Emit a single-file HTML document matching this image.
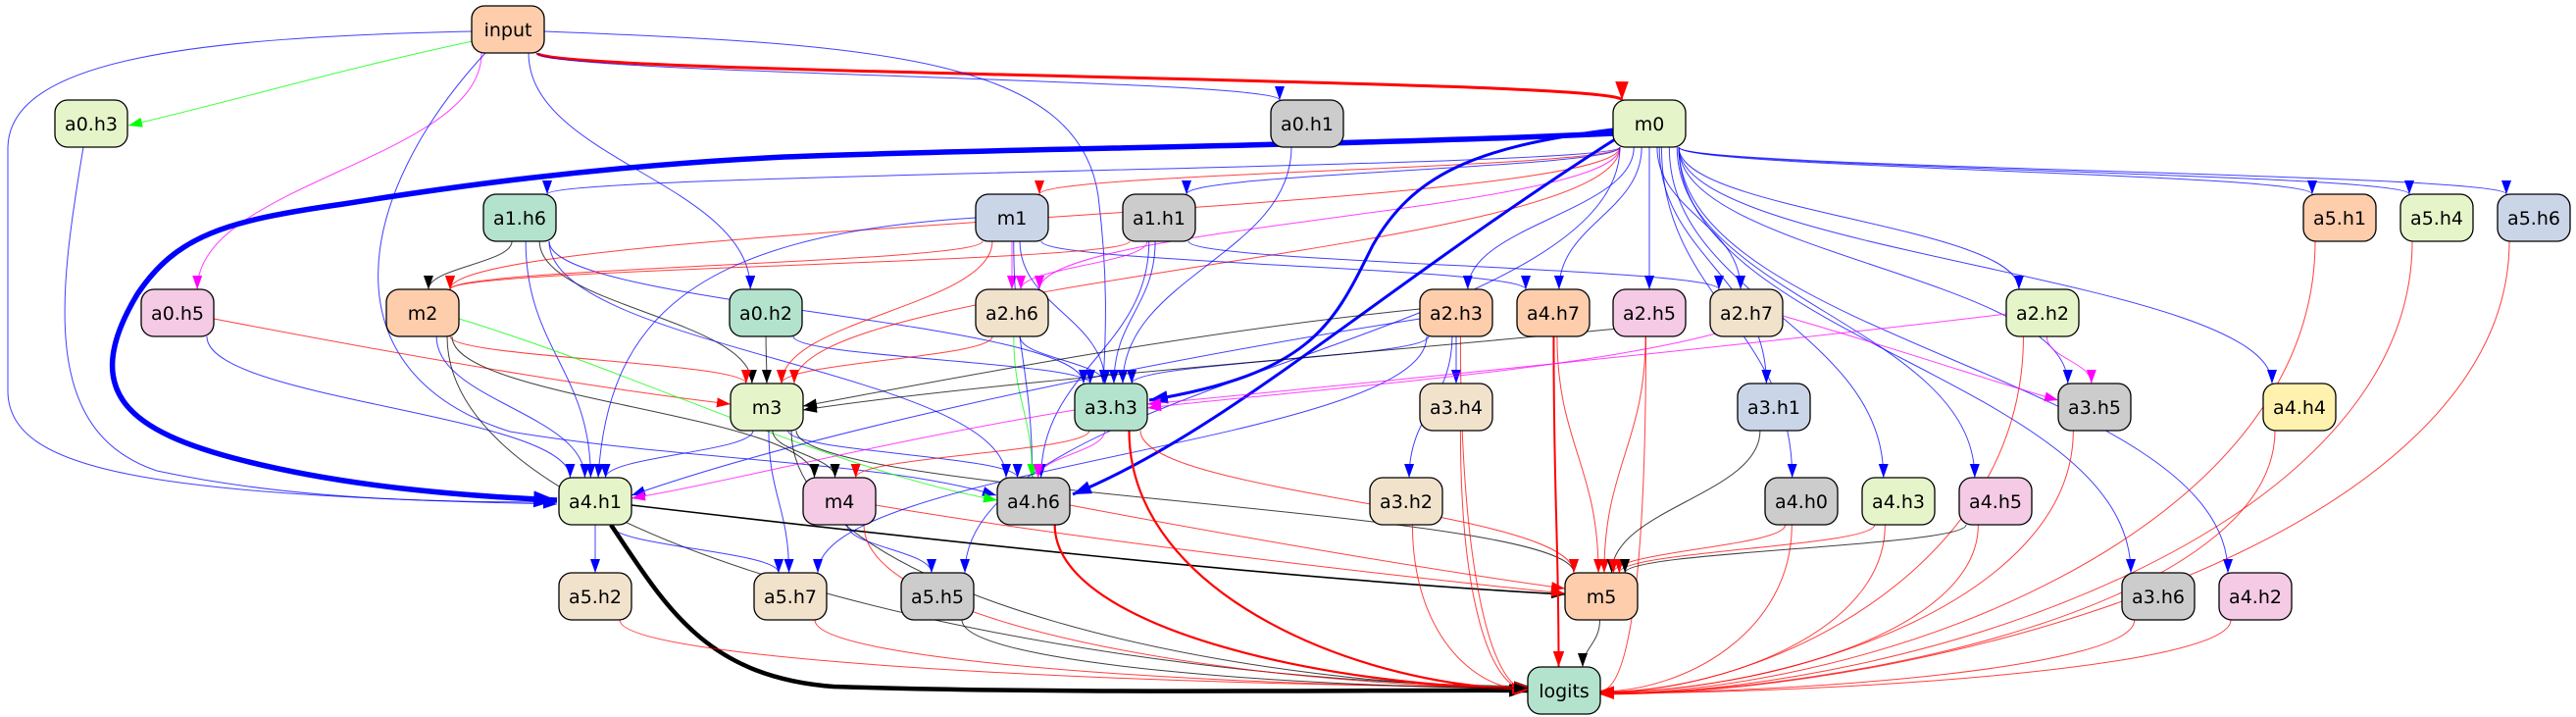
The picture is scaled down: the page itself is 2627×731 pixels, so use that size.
<!DOCTYPE html>
<html><head><meta charset="utf-8"><style>
html,body{margin:0;padding:0;background:#fff;}
svg{display:block;}
text{font-family:"DejaVu Sans","Liberation Sans",sans-serif;font-size:19px;fill:#000;}
</style></head><body>
<svg id="g" width="2627" height="731" viewBox="0 0 2627 731" xmlns="http://www.w3.org/2000/svg">
<defs></defs>
<g id="edges" fill="none"></g>
<g id="nodes"></g>
</svg>
<script>
const R=[30,126,222,319,415,511,608,704];
const C={p:'#fdcdac',g:'#e6f5c9',t:'#b3e2cd',k:'#f4cae4',y:'#cccccc',b:'#cbd5e8',e:'#f1e2cc',w:'#fff2ae'};
const N={
input:[518,0,'p'],'a0.h3':[93,1,'g'],'a0.h1':[1333,1,'y'],m0:[1682,1,'g'],
'a1.h6':[530,2,'t'],m1:[1032,2,'b'],'a1.h1':[1182,2,'y'],'a5.h1':[2386,2,'p'],'a5.h4':[2485,2,'g'],'a5.h6':[2584,2,'b'],
'a0.h5':[181,3,'k'],m2:[431,3,'p'],'a0.h2':[781,3,'t'],'a2.h6':[1032,3,'e'],'a2.h3':[1485,3,'p'],'a4.h7':[1584,3,'p'],'a2.h5':[1682,3,'k'],'a2.h7':[1781,3,'e'],'a2.h2':[2083,3,'g'],
m3:[782,4,'g'],'a3.h3':[1133,4,'t'],'a3.h4':[1485,4,'e'],'a3.h1':[1809,4,'b'],'a3.h5':[2136,4,'y'],'a4.h4':[2345,4,'w'],
'a4.h1':[607,5,'g'],m4:[856,5,'k'],'a4.h6':[1054,5,'y'],'a3.h2':[1434,5,'e'],'a4.h0':[1837,5,'y'],'a4.h3':[1936,5,'g'],'a4.h5':[2035,5,'k'],
'a5.h2':[607,6,'e'],'a5.h7':[806,6,'e'],'a5.h5':[956,6,'y'],m5:[1633,6,'p'],'a3.h6':[2201,6,'y'],'a4.h2':[2300,6,'k'],
logits:[1595,7,'t']};
const B='#0000ff',Rd='#ff0000',K='#000000',G='#00ff00',M='#ff00ff';
const E=[
['input','m0',Rd,3],['input','a0.h3',G,1],['input','a0.h5',M,1],['input','a0.h1',B,1],['input','a0.h2',B,1],['input','a3.h3',B,1],['input','a4.h6',B,1],['input','a4.h1',B,1],
['a0.h3','a4.h1',B,1],['a0.h5','a4.h1',B,1],['a0.h5','m3',Rd,1],
['a1.h6','m2',K,1],['a1.h6','m3',K,1],['a1.h6','a4.h1',B,1],['a1.h6','a3.h3',B,1],['a1.h6','a4.h6',B,1],
['m2','m3',Rd,1],['m2','a4.h1',B,1],['m2','m4',K,1],['m2','a4.h6',G,1],['m2','logits',K,1],
['a0.h2','m3',K,1],['a0.h2','a3.h3',B,1],
['m3','a4.h1',B,1],['m3','m4',K,1],['m3','a5.h7',B,1],['m3','a4.h6',B,1],['m3','m5',K,1],['m3','logits',K,1],
['a4.h1','a5.h2',B,1],['a4.h1','a5.h7',B,1],['a4.h1','logits',K,4.5],['a4.h1','m5',K,1.6],
['m4','a5.h5',B,1],['m4','m5',Rd,1],['m4','logits',Rd,1],['a5.h2','logits',Rd,1],['a5.h7','logits',Rd,1],
['m0','a4.h1',B,5.5],
['m0','a1.h6',B,1],['m0','m2',Rd,1],['m0','m1',Rd,1],['m0','a1.h1',B,1],['m0','a2.h6',M,1],['m0','m3',Rd,1],['m0','a3.h3',B,3],['m0','a4.h6',B,3],
['m0','a2.h3',B,1],['m0','a4.h7',B,1],['m0','a2.h5',B,1],['m0','a2.h7',B,1],['m0','a3.h1',B,1],['m0','a4.h0',B,1],['m0','a4.h3',B,1],['m0','a4.h5',B,1],
['m0','a2.h2',B,1],['m0','a3.h5',B,1],['m0','a3.h6',B,1],['m0','a4.h2',B,1],['m0','a4.h4',B,1],['m0','a5.h1',B,1],['m0','a5.h4',B,1],['m0','a5.h6',B,1],['m0','a5.h5',B,1],
['a0.h1','a3.h3',B,1],
['m1','m2',Rd,1],['m1','m3',Rd,1],['m1','a2.h6',M,1],['m1','a3.h3',B,1],['m1','a4.h6',B,1],['m1','a4.h7',B,1],['m1','a4.h1',B,1],
['a1.h1','m2',Rd,1],['a1.h1','a2.h6',M,1],['a1.h1','a3.h3',B,1],['a1.h1','a4.h6',B,1],['a1.h1','a2.h7',B,1],
['a2.h6','m3',Rd,1],['a2.h6','a3.h3',B,1],['a2.h6','a4.h6',G,1],
['a2.h3','m3',K,1],['a2.h3','a3.h3',B,1],['a2.h3','a3.h4',B,1],['a2.h3','a3.h2',B,1],['a2.h3','a4.h1',B,1],['a2.h3','a5.h7',B,1],['a2.h3','logits',Rd,1],
['a4.h7','m5',Rd,1],['a4.h7','logits',Rd,2],['a2.h5','m5',Rd,1],['a2.h5','logits',Rd,1],['a2.h5','m3',K,1],
['a2.h7','a3.h3',M,1],['a2.h7','a3.h5',M,1],['a2.h2','a3.h3',M,1],['a2.h2','a3.h5',M,1],['a2.h2','logits',Rd,1],
['a3.h3','a4.h1',M,1],['a3.h3','m4',Rd,1],['a3.h3','a4.h6',M,1],['a3.h3','m5',Rd,1],['a3.h3','logits',Rd,2.2],
['a3.h4','logits',Rd,1],['a3.h2','logits',Rd,1],['a3.h1','m5',K,1],['a4.h6','m5',Rd,1],['a4.h6','logits',Rd,2.2],
['a5.h5','logits',K,1],['m5','logits',K,1],
['a4.h0','m5',Rd,1],['a4.h0','logits',Rd,1],['a4.h3','m5',Rd,1],['a4.h3','logits',Rd,1],['a4.h5','m5',K,1],['a4.h5','logits',Rd,1],
['a3.h5','logits',Rd,1],['a3.h6','logits',Rd,1],['a4.h2','logits',Rd,1],['a4.h4','logits',Rd,1],['a5.h1','logits',Rd,1],['a5.h4','logits',Rd,1],['a5.h6','logits',Rd,1]];
const NS='http://www.w3.org/2000/svg';
const svg=document.getElementById('g'),defs=svg.querySelector('defs'),eg=document.getElementById('edges'),ng=document.getElementById('nodes');
const mk={};
function marker(col,w){const s=w>=5?1.7:(w>=3?1.35:(w>=2?1.15:1));const id='m'+col.slice(1)+'_'+Math.round(s*100);if(mk[id])return id;mk[id]=1;
const m=document.createElementNS(NS,'marker');m.setAttribute('id',id);m.setAttribute('markerUnits','userSpaceOnUse');
m.setAttribute('markerWidth',16*s);m.setAttribute('markerHeight',12*s);m.setAttribute('refX',14*s);m.setAttribute('refY',5*s);m.setAttribute('orient','auto');
const p=document.createElementNS(NS,'path');p.setAttribute('d',`M0,0 L${14*s},${5*s} L0,${10*s} Z`);p.setAttribute('fill',col);m.appendChild(p);defs.appendChild(m);return id;}
const custom={
'm0>a4.h1':'M1645,136 C1400,148 1000,152 800,160 C600,170 450,192 350,208 C230,225 180,240 140,300 C80,400 130,440 250,470 C350,495 460,505 568,510',
'input>a4.h1':'M482,32 C200,38 10,60 8,150 L8,400 C10,480 150,505 568,514',
'a0.h3>a4.h1':'M85,150 C60,300 40,440 160,480 C300,510 450,512 568,512',
'input>a0.h3':'M482,42 C350,70 250,100 131,128',
'm0>a3.h3':'M1645,132 C1500,150 1440,180 1400,250 C1360,330 1340,380 1172,408',
'm0>a4.h6':'M1647,142 C1400,300 1250,440 1094,504',
'input>a3.h3':'M555,32 C900,45 1100,60 1120,200 C1130,280 1128,340 1125,391',
'input>a4.h6':'M495,54 C360,200 330,380 520,440 C700,470 900,470 1016,505',
'a4.h1>m5':'M644,515 C900,545 1300,590 1596,606',
'a4.h1>logits':'M623,535 C680,620 720,690 850,700 C1100,708 1400,703 1558,704',
'm1>a4.h1':'M995,222 C700,240 620,330 610,487',
'a2.h3>a4.h1':'M1448,325 C1100,380 800,450 644,505',
'a3.h3>a4.h1':'M1096,418 C900,450 750,490 644,508',
'a2.h7>a3.h3':'M1750,340 C1600,380 1300,400 1170,416',
'a2.h2>a3.h3':'M2046,320 C1800,350 1400,390 1170,412',
'a2.h7>a3.h5':'M1818,322 C1950,360 2050,395 2099,408',
'm2>a4.h6':'M468,325 C650,380 850,480 1017,510',
'a0.h5>m3':'M218,325 C400,360 600,395 745,412',
'a2.h3>m3':'M1448,315 C1200,340 950,390 819,414',
'a2.h5>m3':'M1650,335 C1400,360 1000,390 819,418',
'm4>m5':'M893,515 C1100,550 1400,585 1596,605',
'a4.h6>m5':'M1091,515 C1250,545 1450,580 1596,600'
};
function clamp(v,a,b){return Math.max(a,Math.min(b,v));}
E.forEach(([a,b,col,w])=>{
 const [sx,sr]=N[a],[tx,tr]=N[b];const sy=R[sr],ty=R[tr];
 let d=custom[a+'>'+b];
 if(!d){
  if(b==='logits'){
   const x1=sx+clamp((tx-sx)*0.04,-25,25),y1=sy+24;
   let ex,ey;
   if(Math.abs(sx-tx)<60){ex=tx+clamp((sx-tx)*0.5,-25,25);ey=ty-24;}
   else{ex=tx+(sx>tx?37:-37);ey=ty+clamp((sx-tx)*0.004,-8,8);}
   const dy=ey-y1;
   d=Math.abs(sx-tx)<60?`M${x1},${y1} C${x1},${y1+dy*0.5} ${ex},${ey-dy*0.4} ${ex},${ey}`:
     `M${x1},${y1} C${x1},${y1+dy*0.65} ${ex+(sx-tx)*0.35},${ey} ${ex},${ey}`;
  } else if(tr>sr){
   const x1=sx+clamp((tx-sx)*0.08,-30,30),y1=sy+24;
   const x2=tx+clamp((sx-tx)*0.06,-28,28),y2=ty-24,dy=y2-y1;
   d=`M${x1},${y1} C${x1},${y1+dy*0.45} ${x2},${y2-dy*0.45} ${x2},${y2}`;
  } else {
   const dir=tx>sx?1:-1;const x1=sx+dir*37,x2=tx-dir*37;
   d=`M${x1},${sy} C${(x1+x2)/2},${sy} ${(x1+x2)/2},${ty} ${x2},${ty}`;
  }
 }
 const p=document.createElementNS(NS,'path');p.setAttribute('d',d);p.setAttribute('stroke',col);
 p.setAttribute('stroke-width',w);if(w<1.5)p.setAttribute('stroke-opacity','0.75');
 p.setAttribute('marker-end',`url(#${marker(col,w)})`);eg.appendChild(p);
});
for(const k in N){const [x,r,c]=N[k];const y=R[r];
 const rc=document.createElementNS(NS,'rect');rc.setAttribute('x',x-37);rc.setAttribute('y',y-24);rc.setAttribute('width',74);rc.setAttribute('height',48);
 rc.setAttribute('rx',13);rc.setAttribute('fill',C[c]);rc.setAttribute('stroke','#000');rc.setAttribute('stroke-width',1.3);ng.appendChild(rc);
 const t=document.createElementNS(NS,'text');t.setAttribute('x',x);t.setAttribute('y',y+7);t.setAttribute('text-anchor','middle');t.textContent=k;ng.appendChild(t);}
</script>
</body></html>
